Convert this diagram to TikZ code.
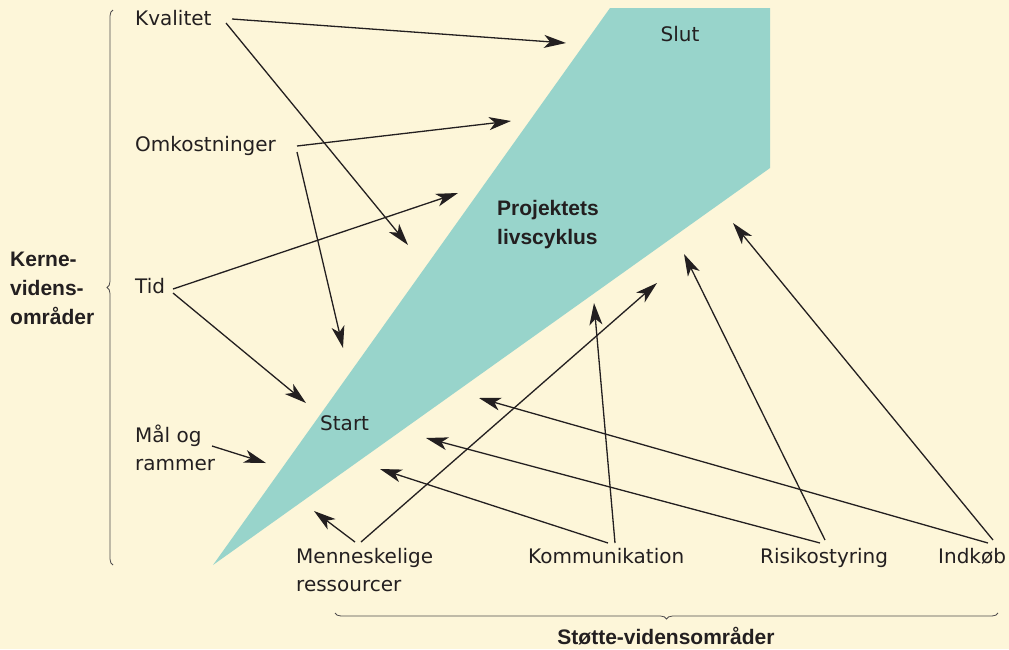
\documentclass[tikz,border=0pt]{standalone}
\usepackage{fontspec}
\setmainfont{DejaVu Sans}
\newfontfamily\hdrfont{Liberation Sans}
\usetikzlibrary{arrows.meta,decorations.pathreplacing}
\definecolor{cream}{RGB}{253,246,217}
\definecolor{lifeteal}{RGB}{152,212,203}
\definecolor{ink}{RGB}{35,31,32}

\tikzset{
  lbl/.style={font=\fontsize{20}{28}\selectfont, text=ink, inner sep=0pt, align=left},
  hdr/.style={font=\hdrfont\fontsize{21}{29}\selectfont\bfseries, text=ink, inner sep=0pt, align=left},
  arr/.style={-{Stealth[length=22pt,width=13pt,inset=6pt]}, line width=1.3pt, draw=ink},
  brc/.style={decorate, decoration={brace, amplitude=6pt}, line width=0.8pt, draw=ink!80}
}

\begin{document}
\begin{tikzpicture}[x=1pt,y=-1pt]
  \fill[cream] (0,0) rectangle (1009,649);
  \fill[lifeteal] (213,565) -- (610,8) -- (770,8) -- (770,168) -- cycle;

  % kerne-vidensomraader
  \node (kval) [lbl, anchor=base west] at (135,25) {Kvalitet};
  \node (omk) [lbl, anchor=base west] at (135,151) {Omkostninger};
  \node (tid) [lbl, anchor=base west] at (135,293) {Tid};
  \node (maal) [lbl, anchor=north west] at (135,422.4) {\strut M\r{a}l og\\rammer};
  \node (kerne) [hdr, anchor=north west] at (10,245.7) {\strut Kerne-\\videns-\\omr\r{a}der};
  \draw[brc] (113,565) -- (113,10);

  % livscyklus
  \node (slut) [lbl, anchor=base] at (680,41) {Slut};
  \node (livs) [hdr, anchor=north west] at (497,194.7) {\strut Projektets\\livscyklus};
  \node (start) [lbl, anchor=base west] at (320,430) {Start};

  % stoette-vidensomraader
  \node (menn) [lbl, anchor=north west] at (296,543.4) {\strut Menneskelige\\ressourcer};
  \node (komm) [lbl, anchor=base west] at (528,563) {Kommunikation};
  \node (risiko) [lbl, anchor=base west] at (760,563) {Risikostyring};
  \node (indk) [lbl, anchor=base west] at (938,563) {Indk\o b};
  \node (stoette) [hdr, anchor=base] at (666,644) {St\o tte-vidensomr\r{a}der};
  \draw[brc] (998,613) -- (335,613);

  % udgangspunkter
  \coordinate (kval-a) at (232,19);   \coordinate (kval-b) at (226,23);
  \coordinate (omk-a) at (297,146);   \coordinate (omk-b) at (297,152);
  \coordinate (tid-a) at (173,289);   \coordinate (tid-b) at (173,293);
  \coordinate (maal-a) at (212,446);
  \coordinate (menn-a) at (355,542);  \coordinate (menn-b) at (361,542);
  \coordinate (komm-a) at (615,543);  \coordinate (komm-b) at (608,543);
  \coordinate (risiko-a) at (825,540); \coordinate (risiko-b) at (820,543);
  \coordinate (indk-a) at (993,540);  \coordinate (indk-b) at (988,543);

  % pilespidser
  \coordinate (p1) at (566,43);   \coordinate (p2) at (408,245);
  \coordinate (p3) at (511,121);  \coordinate (p4) at (343,348);
  \coordinate (p5) at (458,193);  \coordinate (p6) at (306,403);
  \coordinate (p7) at (266,463);  \coordinate (p8) at (314,511);
  \coordinate (p9) at (657,283);  \coordinate (p10) at (594,303);
  \coordinate (p11) at (380,469); \coordinate (p12) at (684,254);
  \coordinate (p13) at (426,438); \coordinate (p14) at (733,223);
  \coordinate (p15) at (479,398);

  \foreach \From/\To in {kval-a/p1, kval-b/p2, omk-a/p3, omk-b/p4, tid-a/p5, tid-b/p6,
      maal-a/p7, menn-a/p8, menn-b/p9, komm-a/p10, komm-b/p11,
      risiko-a/p12, risiko-b/p13, indk-a/p14, indk-b/p15} {
    \draw[arr] (\From) -- (\To);
  }
\end{tikzpicture}
\end{document}
